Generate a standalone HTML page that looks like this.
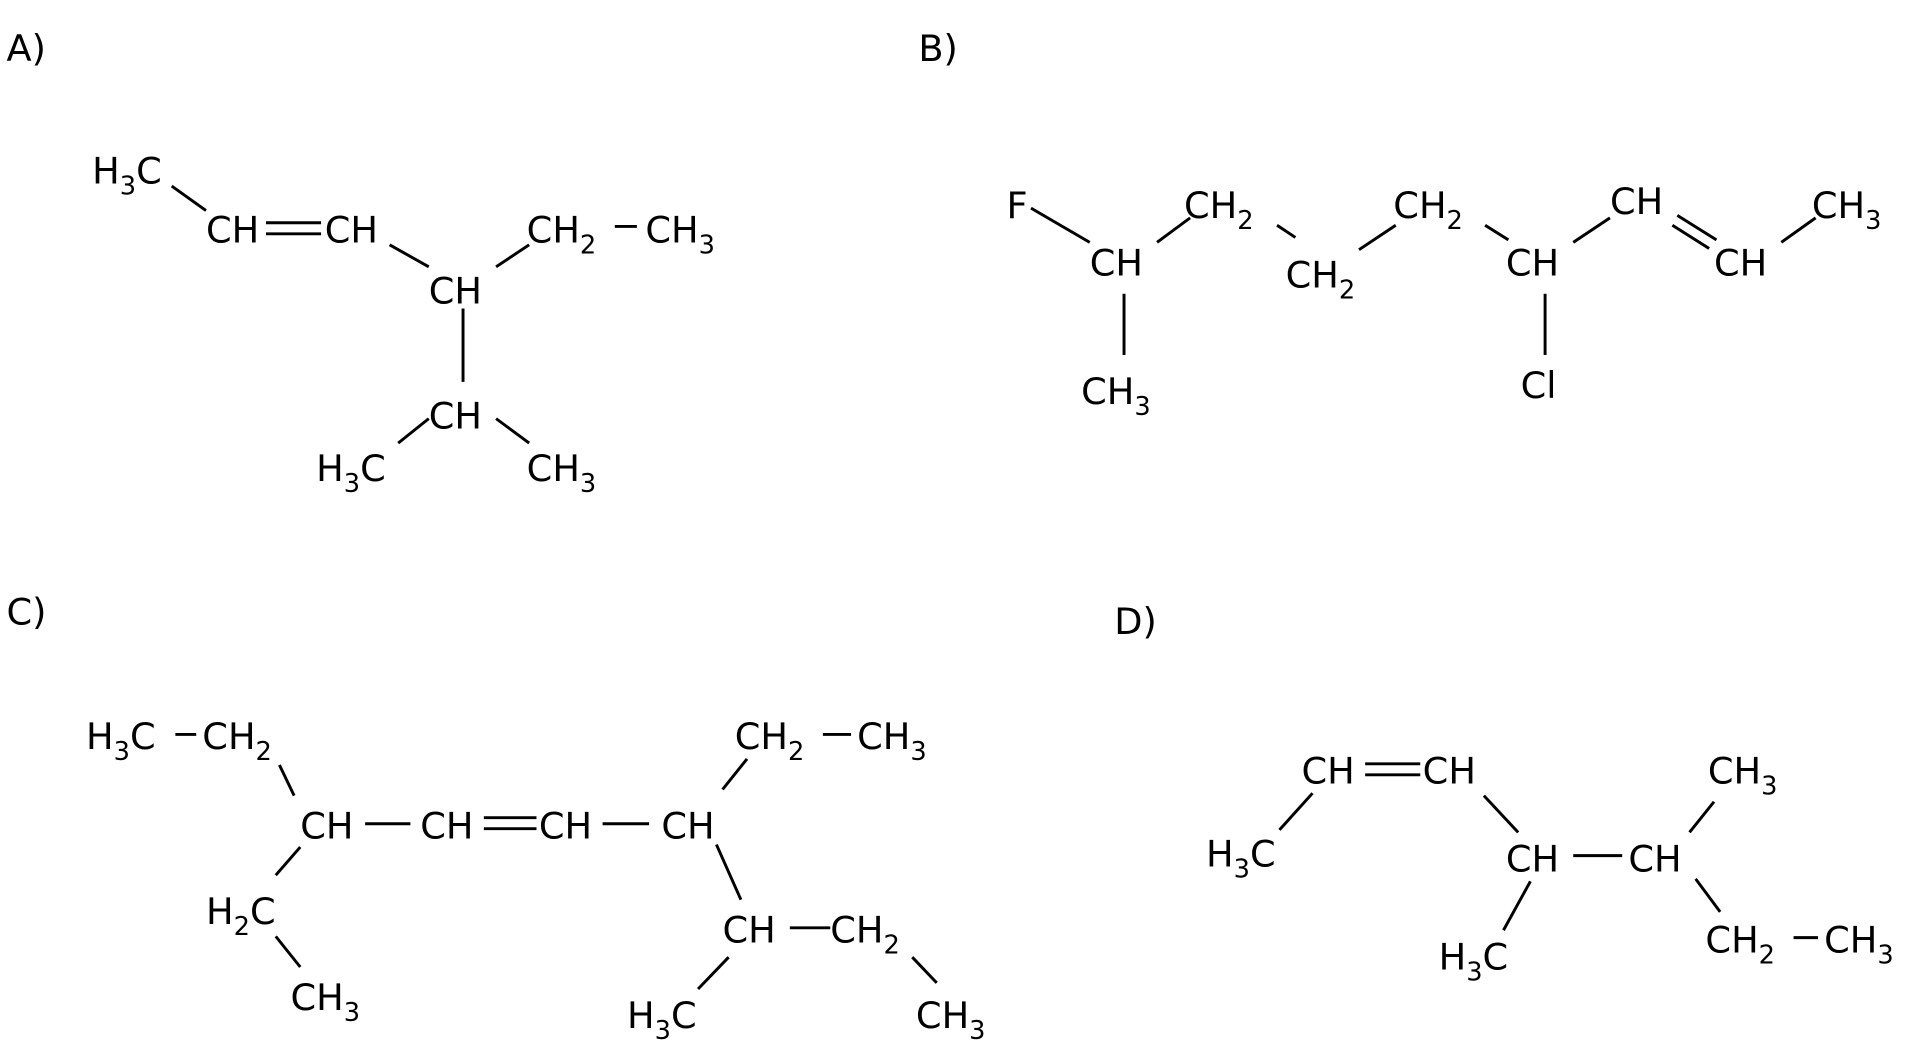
<!DOCTYPE html>
<html><head><meta charset="utf-8"><style>
html,body{margin:0;padding:0;background:#fff;}
svg{display:block;}
text{font-family:"DejaVu Sans","Liberation Sans",sans-serif;font-size:30px;fill:#000;}
tspan.s{font-size:21px;}
line{stroke:#000;stroke-width:2.4;}
</style></head><body>
<svg width="1920" height="1049" viewBox="0 0 1568 857" xmlns="http://www.w3.org/2000/svg">
<!-- A -->
<text x="5" y="50">A)</text>
<text x="75" y="150">H<tspan class="s" dy="9">3</tspan><tspan dy="-9">C</tspan></text>
<line x1="140" y1="152" x2="168" y2="172"/>
<text x="168" y="198">CH</text>
<line x1="217" y1="182" x2="262" y2="182"/><line x1="217" y1="191" x2="262" y2="191"/>
<text x="265" y="198">CH</text>
<line x1="318" y1="200" x2="350" y2="218"/>
<text x="350" y="248">CH</text>
<line x1="405" y1="218" x2="432" y2="200"/>
<text x="430" y="198">CH<tspan class="s" dy="9">2</tspan></text>
<line x1="502" y1="185" x2="520" y2="185"/>
<text x="527" y="198">CH<tspan class="s" dy="9">3</tspan></text>
<line x1="378" y1="252" x2="378" y2="312"/>
<text x="350" y="350">CH</text>
<line x1="350" y1="342" x2="325" y2="362"/>
<line x1="405" y1="342" x2="432" y2="362"/>
<text x="258" y="393">H<tspan class="s" dy="9">3</tspan><tspan dy="-9">C</tspan></text>
<text x="430" y="393">CH<tspan class="s" dy="9">3</tspan></text>

<!-- B -->
<text x="750" y="50">B)</text>
<text x="822" y="178">F</text>
<line x1="842" y1="170" x2="890" y2="198"/>
<text x="890" y="225">CH</text>
<line x1="918" y1="240" x2="918" y2="290"/>
<text x="883" y="330">CH<tspan class="s" dy="9">3</tspan></text>
<line x1="945" y1="198" x2="972" y2="178"/>
<text x="967" y="178">CH<tspan class="s" dy="9">2</tspan></text>
<line x1="1043" y1="184" x2="1058" y2="194"/>
<text x="1050" y="235">CH<tspan class="s" dy="9">2</tspan></text>
<line x1="1110" y1="204" x2="1140" y2="184"/>
<text x="1138" y="178">CH<tspan class="s" dy="9">2</tspan></text>
<line x1="1213" y1="184" x2="1232" y2="196"/>
<text x="1230" y="225">CH</text>
<line x1="1262" y1="240" x2="1262" y2="290"/>
<text x="1242" y="325">Cl</text>
<line x1="1285" y1="198" x2="1315" y2="178"/>
<text x="1315" y="175">CH</text>
<line x1="1370" y1="176" x2="1402" y2="196"/><line x1="1366" y1="184" x2="1396" y2="203"/>
<text x="1400" y="225">CH</text>
<line x1="1455" y1="198" x2="1483" y2="178"/>
<text x="1480" y="178">CH<tspan class="s" dy="9">3</tspan></text>

<!-- C -->
<text x="5" y="510">C)</text>
<text x="70" y="612">H<tspan class="s" dy="9">3</tspan><tspan dy="-9">C</tspan></text>
<line x1="143" y1="600" x2="160" y2="600"/>
<text x="165" y="612">CH<tspan class="s" dy="9">2</tspan></text>
<line x1="228" y1="625" x2="240" y2="650"/>
<text x="245" y="685">CH</text>
<line x1="298" y1="673" x2="335" y2="673"/>
<text x="343" y="685">CH</text>
<line x1="395" y1="668" x2="438" y2="668"/><line x1="395" y1="677" x2="438" y2="677"/>
<text x="440" y="685">CH</text>
<line x1="492" y1="673" x2="530" y2="673"/>
<text x="540" y="685">CH</text>
<line x1="590" y1="645" x2="610" y2="620"/>
<text x="600" y="612">CH<tspan class="s" dy="9">2</tspan></text>
<line x1="672" y1="600" x2="695" y2="600"/>
<text x="700" y="612">CH<tspan class="s" dy="9">3</tspan></text>
<line x1="585" y1="690" x2="605" y2="735"/>
<text x="590" y="770">CH</text>
<line x1="645" y1="758" x2="678" y2="758"/>
<text x="678" y="770">CH<tspan class="s" dy="9">2</tspan></text>
<line x1="745" y1="782" x2="765" y2="803"/>
<text x="748" y="840">CH<tspan class="s" dy="9">3</tspan></text>
<line x1="595" y1="782" x2="570" y2="808"/>
<text x="512" y="840">H<tspan class="s" dy="9">3</tspan><tspan dy="-9">C</tspan></text>
<line x1="245" y1="692" x2="225" y2="715"/>
<text x="168" y="755">H<tspan class="s" dy="9">2</tspan><tspan dy="-9">C</tspan></text>
<line x1="225" y1="765" x2="245" y2="790"/>
<text x="237" y="825">CH<tspan class="s" dy="9">3</tspan></text>

<!-- D -->
<text x="910" y="518">D)</text>
<text x="1063" y="640">CH</text>
<line x1="1115" y1="624" x2="1160" y2="624"/><line x1="1115" y1="633" x2="1160" y2="633"/>
<text x="1162" y="640">CH</text>
<line x1="1072" y1="648" x2="1045" y2="678"/>
<text x="985" y="708">H<tspan class="s" dy="9">3</tspan><tspan dy="-9">C</tspan></text>
<line x1="1212" y1="650" x2="1240" y2="680"/>
<text x="1230" y="712">CH</text>
<line x1="1285" y1="699" x2="1325" y2="699"/>
<text x="1330" y="712">CH</text>
<line x1="1380" y1="680" x2="1400" y2="655"/>
<text x="1395" y="640">CH<tspan class="s" dy="9">3</tspan></text>
<line x1="1385" y1="718" x2="1405" y2="745"/>
<text x="1393" y="778">CH<tspan class="s" dy="9">2</tspan></text>
<line x1="1465" y1="766" x2="1485" y2="766"/>
<text x="1490" y="778">CH<tspan class="s" dy="9">3</tspan></text>
<line x1="1250" y1="720" x2="1228" y2="760"/>
<text x="1175" y="792">H<tspan class="s" dy="9">3</tspan><tspan dy="-9">C</tspan></text>
</svg>
</body></html>
